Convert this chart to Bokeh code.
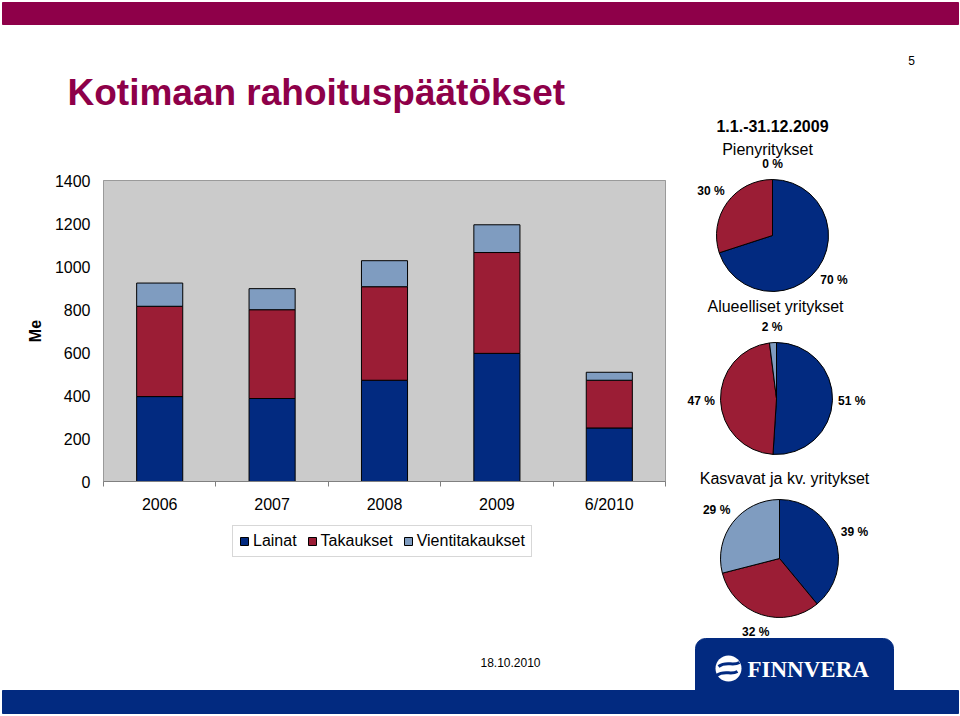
import math
from bokeh.plotting import figure
from bokeh.models import (ColumnDataSource, Range1d, FixedTicker, Legend, LegendItem,
                          LinearAxis, Grid)
from bokeh.core.properties import value
from bokeh.embed import file_html
from bokeh.resources import INLINE

# ---------------- data ----------------
categories = ["2006", "2007", "2008", "2009", "6/2010"]
lainat = [395, 386, 471, 596, 249]
takaukset = [420, 413, 435, 469, 222]
vientitakaukset = [108, 98, 121, 129, 37]
series_names = ["Lainat", "Takaukset", "Vientitakaukset"]
y_ticks = [0, 200, 400, 600, 800, 1000, 1200, 1400]
y_label = "Me"

pie_period = "1.1.-31.12.2009"
pie_titles = ["Pienyritykset", "Alueelliset yritykset", "Kasvavat ja kv. yritykset"]
pie_pienyritykset = [70, 30, 0]
pie_alueelliset = [51, 47, 2]
pie_kasvavat = [39, 32, 29]

title_text = "Kotimaan rahoituspäätökset"
page_number = "5"
date_text = "18.10.2010"
logo_text = "FINNVERA"

# ---------------- style / layout ----------------
NAVY = "#022a80"
RED = "#9b1d35"
LIGHT = "#7f9cc0"
MAGENTA = "#8e0049"
FONT = "Liberation Sans"
SERIES_COLORS = [NAVY, RED, LIGHT]

W, H = 960, 716
PLOT_LEFT, PLOT_RIGHT, PLOT_TOP, PLOT_BOTTOM = 103, 665, 180, 481
Y_MAX = y_ticks[-1]

n = len(categories)
ux = (PLOT_RIGHT - PLOT_LEFT) / n
uy = (PLOT_BOTTOM - PLOT_TOP) / Y_MAX
x_start = 0.5 - PLOT_LEFT / ux
x_end = 0.5 + (W - PLOT_LEFT) / ux
y_start = -(H - PLOT_BOTTOM) / uy
y_end = PLOT_BOTTOM / uy

p = figure(width=W, height=H, x_range=Range1d(x_start, x_end), y_range=Range1d(y_start, y_end),
           x_axis_location=None, y_axis_location=None, toolbar_location=None,
           output_backend="svg", min_border=0, outline_line_color=None,
           background_fill_color="white", border_fill_color="white")
p.xgrid.visible = False
p.ygrid.visible = False
p.extra_x_ranges = {"px": Range1d(0, W)}
p.extra_y_ranges = {"py": Range1d(-H, 0)}
PX = dict(x_range_name="px", y_range_name="py")


def txt(x, y, s, size, color="black", bold=False, align="center", baseline="middle", font=FONT):
    p.text(x=[x], y=[-y], text=[s], text_font=value(font), text_font_size=size,
           text_color=color, text_font_style="bold" if bold else "normal",
           text_align=align, text_baseline=baseline, **PX)


# ---------------- header ----------------
p.quad(left=[2], right=[958], bottom=[-24], top=[-2], color=MAGENTA, **PX)
txt(67, 92, title_text, "37px", color=MAGENTA, bold=True, align="left", baseline="alphabetic")
txt(911, 60, page_number, "12px")

# ---------------- bar chart ----------------
xs = [i + 1 for i in range(n)]
src = ColumnDataSource(dict(x=xs, Lainat=lainat, Takaukset=takaukset, Vientitakaukset=vientitakaukset))

# plot area background
p.quad(left=[0.5], right=[n + 0.5], bottom=[0], top=[Y_MAX], fill_color="#cbcbcb",
       line_color="#9a9a9a", line_width=1)

ygrid = Grid(dimension=1, ticker=FixedTicker(ticks=y_ticks), cross_bounds=(0.5, n + 0.5),
             grid_line_color="#8f8f8f", grid_line_width=1)
p.add_layout(ygrid)

renderers = p.vbar_stack(series_names, x="x", width=0.41, fill_color=SERIES_COLORS,
                         line_color="black", line_width=1, source=src)

xa = LinearAxis(fixed_location=0, bounds=(0.5, n + 0.5),
                ticker=FixedTicker(ticks=xs, minor_ticks=[i + 0.5 for i in range(n + 1)]))
xa.major_label_overrides = {x: c for x, c in zip(xs, categories)}
xa.major_tick_line_color = None
xa.major_tick_out = 0
xa.major_tick_in = 0
xa.minor_tick_line_color = "#808080"
xa.minor_tick_out = 5
xa.minor_tick_in = 0
xa.major_label_standoff = 9
xa.axis_line_color = "#808080"
xa.major_label_text_font = FONT
xa.major_label_text_font_size = "16px"
xa.major_label_text_color = "black"
p.add_layout(xa, "below")

ya = LinearAxis(fixed_location=0.5, bounds=(0, Y_MAX), ticker=FixedTicker(ticks=y_ticks))
ya.major_tick_line_color = None
ya.minor_tick_line_color = None
ya.major_tick_out = 0
ya.major_tick_in = 0
ya.axis_line_color = None
ya.major_label_standoff = 13
ya.major_label_text_font = FONT
ya.major_label_text_font_size = "16px"
ya.major_label_text_color = "black"
ya.axis_label = y_label
ya.axis_label_text_font = FONT
ya.axis_label_text_font_size = "16px"
ya.axis_label_text_font_style = "bold"
ya.axis_label_text_color = "black"
ya.axis_label_standoff = 8
p.add_layout(ya, "left")

legend = Legend(items=[LegendItem(label=nm, renderers=[r]) for nm, r in zip(series_names, renderers)],
                orientation="horizontal", location=(232, H - 557),
                label_text_font=FONT, label_text_font_size="16px", label_text_color="black",
                glyph_width=10, glyph_height=10, label_standoff=4, spacing=10,
                padding=6, label_height=15, margin=0,
                border_line_color="#b0b0b0", background_fill_color="white", background_fill_alpha=1)
p.add_layout(legend)

# ---------------- pies ----------------
txt(772, 125, pie_period, "16px", bold=True)

pies = [
    (pie_titles[0], pie_pienyritykset, (767, 149), (772, 235), 56),
    (pie_titles[1], pie_alueelliset, (775, 306), (776, 398), 56),
    (pie_titles[2], pie_kasvavat, (784, 478), (779, 558), 59),
]
for title, vals, tpos, c, r in pies:
    txt(tpos[0], tpos[1], title, "16px")
    total = float(sum(vals))
    cum = 0.0
    for v, col in zip(vals, SERIES_COLORS):
        f0 = cum / total
        f1 = (cum + v) / total
        cum += v
        if v > 0:
            p.wedge(x=[c[0]], y=[-c[1]], radius=r,
                    start_angle=math.pi / 2 - 2 * math.pi * f1,
                    end_angle=math.pi / 2 - 2 * math.pi * f0,
                    fill_color=col, line_color="black", line_width=1, **PX)
        mid = 2 * math.pi * (f0 + f1) / 2
        d = r * 1.2 + abs(math.sin(mid)) * 8 + abs(math.cos(mid)) * 4
        lx = c[0] + d * math.sin(mid)
        ly = c[1] - d * math.cos(mid)
        txt(lx, ly, "%d %%" % v, "12px", bold=True)

# ---------------- footer ----------------
p.quad(left=[2], right=[958], bottom=[-713], top=[-690], color=NAVY, **PX)
p.quad(left=[695], right=[893], bottom=[-691], top=[-638], color=NAVY,
       border_radius=(10, 10, 0, 0), **PX)
txt(510, 662, date_text, "12px")
p.circle(x=[728], y=[-668], radius=13, fill_color="white", line_color=None, **PX)
p.bezier(x0=[718], y0=[-666], x1=[739], y1=[-662], cx0=[726], cy0=[-660], cx1=[732], cy1=[-666],
         line_color=NAVY, line_width=3, **PX)
p.bezier(x0=[716], y0=[-675], x1=[737], y1=[-671], cx0=[724], cy0=[-669], cx1=[730], cy1=[-675],
         line_color=NAVY, line_width=3, **PX)
txt(747, 669, logo_text, "23px", color="white", bold=True, align="left", font="Liberation Serif")

open("out.html", "w").write(file_html(p, INLINE))
